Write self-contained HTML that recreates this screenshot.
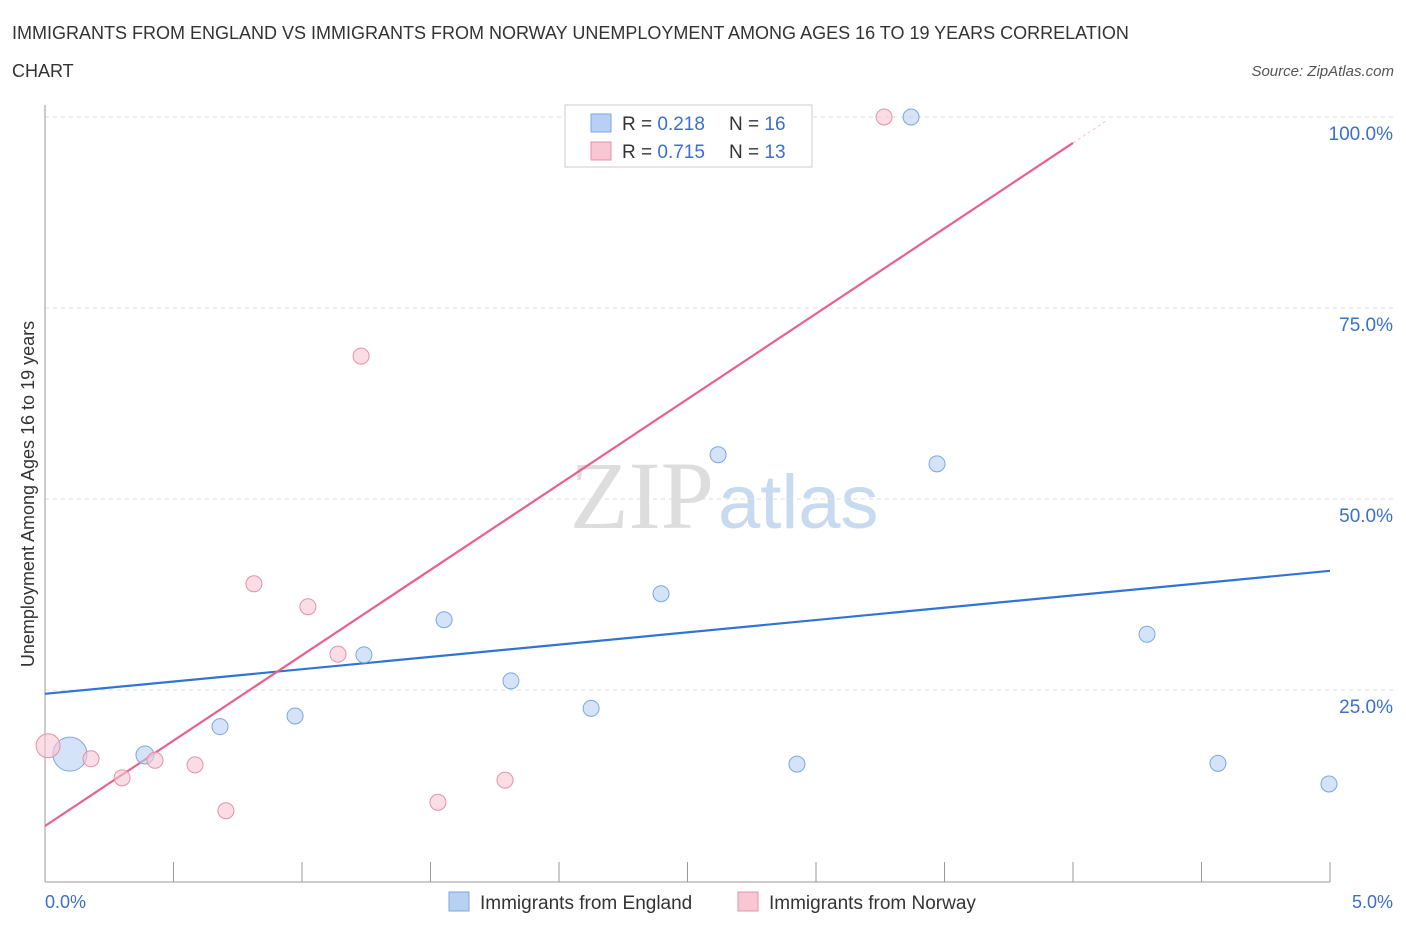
<!DOCTYPE html>
<html><head><meta charset="utf-8">
<style>
body{margin:0;background:#fff;font-family:"Liberation Sans",sans-serif;}
svg text{font-family:"Liberation Sans",sans-serif;}
</style></head>
<body>
<svg id="chart" width="1406" height="930">
<text x="12" y="39" font-size="18" fill="#333">IMMIGRANTS FROM ENGLAND VS IMMIGRANTS FROM NORWAY UNEMPLOYMENT AMONG AGES 16 TO 19 YEARS CORRELATION</text>
<text x="12" y="77" font-size="18" fill="#333">CHART</text>
<text x="1394" y="76" font-size="15" fill="#555" font-style="italic" text-anchor="end">Source: ZipAtlas.com</text>
<text x="714" y="528" font-size="96" fill="#ddd" text-anchor="end" style="font-family:'Liberation Serif',serif">ZIP</text>
<text x="718" y="528" font-size="76" fill="#c8daf0">atlas</text>
<text transform="translate(34,494) rotate(-90)" font-size="18" fill="#333" text-anchor="middle">Unemployment Among Ages 16 to 19 years</text>
<g id="grid"></g><g id="axes"></g><g id="lines"></g><g id="points"></g>
<g>
<rect x="565" y="105" width="247" height="62" fill="#fff" stroke="#ccc"/>
<rect x="591" y="114" width="20" height="18" fill="#b8d0f4" stroke="#7aa8e0"/>
<text x="622" y="130" font-size="19" fill="#333">R = <tspan fill="#3a6fd0">0.218</tspan></text>
<text x="729" y="130" font-size="19" fill="#333">N = <tspan fill="#3a6fd0">16</tspan></text>
<rect x="591" y="142" width="20" height="18" fill="#f9c6d4" stroke="#e890a8"/>
<text x="622" y="158" font-size="19" fill="#333">R = <tspan fill="#3a6fd0">0.715</tspan></text>
<text x="729" y="158" font-size="19" fill="#333">N = <tspan fill="#3a6fd0">13</tspan></text>
</g>
<g>
<rect x="449" y="892" width="20" height="19" fill="#b8d0f4" stroke="#7aa8e0"/>
<text x="480" y="909" font-size="19" fill="#333">Immigrants from England</text>
<rect x="738" y="892" width="20" height="19" fill="#f9c6d4" stroke="#e890a8"/>
<text x="769" y="909" font-size="19" fill="#333">Immigrants from Norway</text>
</g>
</svg>
<script>
const blueX=[0.097,0.389,0.681,0.973,1.241,1.553,1.813,2.125,2.397,2.619,2.926,3.370,3.471,4.288,4.564,4.996];
const blueY=[16.6,16.5,20.2,21.6,29.6,34.2,26.2,22.6,37.6,55.8,15.3,100,54.6,32.3,15.4,12.7];
const blueR=[17,9,8,8,8,8,8,8,8,8,8,8,8,8,8,8];
const pinkX=[0.012,0.179,0.300,0.428,0.584,0.704,0.813,1.023,1.140,1.230,1.529,1.790,3.265];
const pinkY=[17.7,16.0,13.5,15.8,15.2,9.2,38.9,35.9,29.7,68.7,10.3,13.2,100];
const pinkR=[12,8,8,8,8,8,8,8,8,8,8,8,8];
const blueTrend=[24.5,40.6];
const pinkTrend=[7.2,22.35];
const yTicks=[25,50,75,100];
const yTickLabels=["25.0%","50.0%","75.0%","100.0%"];
const xTicks=[0,0.5,1,1.5,2,2.5,3,3.5,4,4.5,5];
const NS="http://www.w3.org/2000/svg";
const sx=v=>45+v/5*1285, sy=v=>881-v/100*764;
function mk(p,t,a){const e=document.createElementNS(NS,t);for(const k in a)e.setAttribute(k,a[k]);document.getElementById(p).appendChild(e);return e;}
yTicks.forEach((t,i)=>{
 const l=mk('grid','line',{x1:45,x2:1395,y1:sy(t),y2:sy(t),stroke:'#ddd','stroke-dasharray':'4,4'});
 
 
 const tx=mk('grid','text',{x:1393,y:sy(t)+23,'font-size':19,fill:'#3a6fd0','text-anchor':'end'});
 tx.textContent=yTickLabels[i];
 
 
});
const xa=mk('axes','line',{x1:45,x2:1330,y1:882,y2:882,stroke:'#999'});


const ya=mk('axes','line',{x1:45,x2:45,y1:105,y2:882,stroke:'#999'});


xTicks.forEach(t=>{
 const l=mk('axes','line',{x1:sx(t),x2:sx(t),y1:862,y2:882,stroke:'#999'});
 
 
});
const x0=mk('axes','text',{x:45,y:908,'font-size':18,fill:'#3a6fd0'});x0.textContent='0.0%';


const x1=mk('axes','text',{x:1393,y:908,'font-size':18,fill:'#3a6fd0','text-anchor':'end'});x1.textContent='5.0%';


blueX.forEach((x,i)=>{
 const c=mk('points','circle',{cx:sx(x),cy:sy(blueY[i]),r:blueR[i],fill:'rgba(184,208,244,0.6)',stroke:'#7aa8e0','stroke-width':1});
 
 
});
pinkX.forEach((x,i)=>{
 const c=mk('points','circle',{cx:sx(x),cy:sy(pinkY[i]),r:pinkR[i],fill:'rgba(249,198,212,0.6)',stroke:'#e890a8','stroke-width':1});
 
 
});
const bl=mk('lines','line',{x1:sx(0),y1:sy(blueTrend[0]),x2:sx(5),y2:sy(blueTrend[1]),stroke:'#2f74d6','stroke-width':2.2});


const pe=(96.6-pinkTrend[0])/pinkTrend[1];
const pl=mk('lines','line',{x1:sx(0),y1:sy(pinkTrend[0]),x2:sx(pe),y2:sy(pinkTrend[0]+pinkTrend[1]*pe),stroke:'#e8608c','stroke-width':2.2});


const pe2=(99.6-pinkTrend[0])/pinkTrend[1];
const pd=mk('lines','line',{x1:sx(pe),y1:sy(pinkTrend[0]+pinkTrend[1]*pe),x2:sx(pe2),y2:sy(pinkTrend[0]+pinkTrend[1]*pe2),stroke:'#f4c4d2','stroke-width':1,'stroke-dasharray':'3,3'});


</script>
</body></html>
